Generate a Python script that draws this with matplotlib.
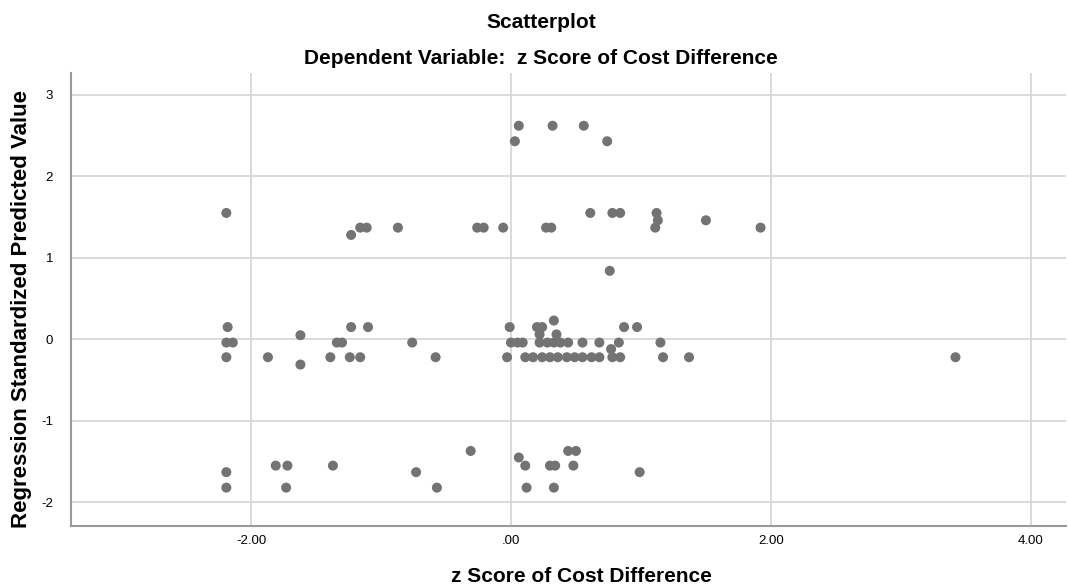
import matplotlib
matplotlib.use("Agg")
import matplotlib.pyplot as plt

# z score of cost difference (x) and regression standardized predicted value (y)
z_cost = [0.06, 0.32, 0.56,
          0.03, 0.74,
          -2.19, 0.61, 0.78, 0.84, 1.12,
          1.13, 1.50,
          -1.16, -1.11, -0.87, -0.26, -0.21, -0.06, 0.27, 0.31, 1.11, 1.92,
          -1.23,
          0.76,
          0.33,
          -2.18, -1.23, -1.10, -0.01, 0.20, 0.24, 0.87, 0.97,
          -1.62, 0.22, 0.35,
          -2.19, -2.14, -1.34, -1.30, -0.76, 0.00, 0.05, 0.09, 0.22, 0.28, 0.33,
          0.38, 0.44, 0.55, 0.68, 0.83, 1.15,
          0.77,
          -2.19, -1.87, -1.39, -1.24, -1.16, -0.58, -0.03, 0.11, 0.17, 0.24, 0.30,
          0.36, 0.43, 0.49, 0.55, 0.62, 0.68, 0.78, 0.84, 1.17, 1.37, 3.42,
          -1.62,
          -0.31, 0.44, 0.50,
          0.06,
          -1.81, -1.72, -1.37, 0.11, 0.30, 0.34, 0.48,
          -2.19, -0.73, 0.99,
          -2.19, -1.73, -0.57, 0.12, 0.33]
pred_value = [2.62, 2.62, 2.62,
              2.43, 2.43,
              1.55, 1.55, 1.55, 1.55, 1.55,
              1.46, 1.46,
              1.37, 1.37, 1.37, 1.37, 1.37, 1.37, 1.37, 1.37, 1.37, 1.37,
              1.28,
              0.84,
              0.23,
              0.15, 0.15, 0.15, 0.15, 0.15, 0.15, 0.15, 0.15,
              0.05, 0.06, 0.06,
              -0.04, -0.04, -0.04, -0.04, -0.04, -0.04, -0.04, -0.04, -0.04, -0.04, -0.04,
              -0.04, -0.04, -0.04, -0.04, -0.04, -0.04,
              -0.12,
              -0.22, -0.22, -0.22, -0.22, -0.22, -0.22, -0.22, -0.22, -0.22, -0.22, -0.22,
              -0.22, -0.22, -0.22, -0.22, -0.22, -0.22, -0.22, -0.22, -0.22, -0.22, -0.22,
              -0.31,
              -1.37, -1.37, -1.37,
              -1.45,
              -1.55, -1.55, -1.55, -1.55, -1.55, -1.55, -1.55,
              -1.63, -1.63, -1.63,
              -1.82, -1.82, -1.82, -1.82, -1.82]

x_ticks = [-2, 0, 2, 4]
x_tick_labels = ['-2.00', '.00', '2.00', '4.00']
y_ticks = [-2, -1, 0, 1, 2, 3]
y_tick_labels = ['-2', '-1', '0', '1', '2', '3']

plt.rcParams['font.family'] = ['Liberation Sans', 'DejaVu Sans']

fig = plt.figure(figsize=(10.68, 5.86), dpi=100)
ax = fig.add_axes([0.0665, 0.1029, 0.9316, 0.7725])

ax.scatter(z_cost, pred_value, s=52, color='#737373', edgecolors='none', zorder=3)

ax.set_xlim(-3.385, 4.27)
ax.set_ylim(-2.287, 3.267)
ax.set_xticks(x_ticks)
ax.set_xticklabels(x_tick_labels)
ax.set_yticks(y_ticks)
ax.set_yticklabels(y_tick_labels)
ax.tick_params(axis='both', length=0, labelsize=9.5, colors='#000000')
ax.tick_params(axis='x', pad=7)
ax.tick_params(axis='y', pad=13)

ax.set_axisbelow(True)
ax.grid(True, color='#d4d4d4', linewidth=1.2)
for side in ['top', 'right']:
    ax.spines[side].set_visible(False)
for side in ['left', 'bottom']:
    ax.spines[side].set_color('#9a9a9a')
    ax.spines[side].set_linewidth(1.5)

fig.text(0.5066, 1 - 23 / 586, 'Scatterplot', ha='center', va='center',
         fontsize=15, fontweight='bold')
fig.text(0.5066, 1 - 59 / 586, 'Dependent Variable:  z Score of Cost Difference',
         ha='center', va='center', fontsize=15, fontweight='bold')
fig.text(0.544, 1 - 576 / 586, 'z Score of Cost Difference', ha='center', va='center',
         fontsize=15, fontweight='bold')
fig.text(0.0203, 1 - 309 / 586, 'Regression Standardized Predicted Value',
         ha='center', va='center', rotation=90, fontsize=16, fontweight='bold')

fig.savefig('out.png', dpi=100)
